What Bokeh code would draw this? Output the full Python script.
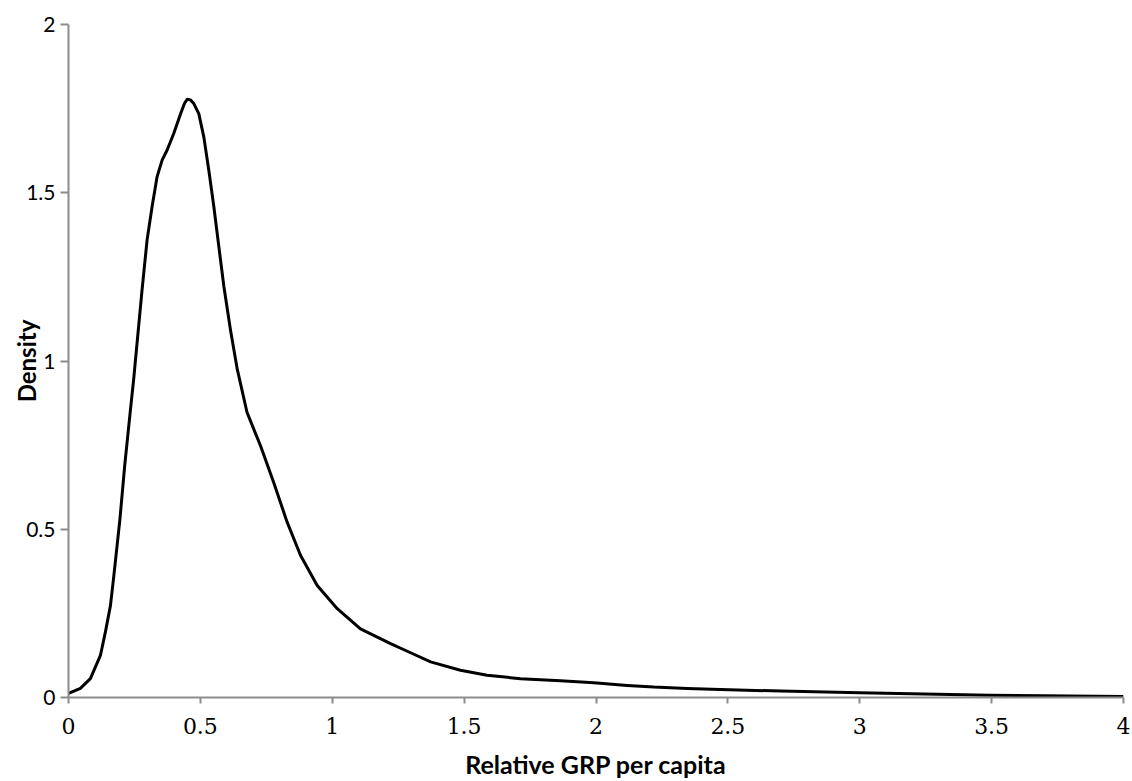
from bokeh.plotting import figure
from bokeh.models import Range1d, FixedTicker
from bokeh.embed import file_html
from bokeh.resources import INLINE

# Kernel density curve
x_vals = [0.0, 0.045, 0.083, 0.121, 0.140, 0.159, 0.172, 0.195, 0.213, 0.235,
          0.247, 0.279, 0.298, 0.317, 0.336, 0.355, 0.374, 0.399, 0.425, 0.440,
          0.450, 0.462, 0.475, 0.494, 0.513, 0.532, 0.551, 0.570, 0.589, 0.614,
          0.640, 0.677, 0.728, 0.778, 0.829, 0.880, 0.943, 1.019, 1.107, 1.221,
          1.297, 1.373, 1.486, 1.587, 1.714, 1.865, 1.992, 2.118, 2.219, 2.346,
          2.472, 2.7, 3.0, 3.49, 4.0]
density = [0.012, 0.027, 0.056, 0.125, 0.195, 0.273, 0.362, 0.530, 0.688, 0.856,
           0.945, 1.212, 1.360, 1.459, 1.548, 1.597, 1.627, 1.676, 1.735, 1.766,
           1.778, 1.776, 1.765, 1.735, 1.666, 1.567, 1.459, 1.340, 1.222, 1.093,
           0.975, 0.847, 0.748, 0.639, 0.521, 0.422, 0.333, 0.264, 0.204, 0.160,
           0.133, 0.106, 0.081, 0.066, 0.056, 0.050, 0.044, 0.036, 0.031, 0.027,
           0.024, 0.019, 0.014, 0.007, 0.003]

x_ticks = [0, 0.5, 1, 1.5, 2, 2.5, 3, 3.5, 4]
x_tick_labels = ["0", "0.5", "1", "1.5", "2", "2.5", "3", "3.5", "4"]
y_ticks = [0, 0.5, 1, 1.5, 2]
y_tick_labels = ["0", "0.5", "1", "1.5", "2"]

p = figure(width=1132, height=781, output_backend="svg", toolbar_location=None,
           x_range=Range1d(0, 4), y_range=Range1d(0, 2),
           min_border_left=68, min_border_right=9, min_border_top=24,
           min_border_bottom=82)
p.outline_line_color = None
p.xgrid.grid_line_color = None
p.ygrid.grid_line_color = None

p.line(x_vals, density, line_color="black", line_width=3, line_join="round")

axis_color = "#8c8c8c"
xa = p.xaxis[0]
xa.ticker = FixedTicker(ticks=x_ticks)
xa.major_label_overrides = {t: l for t, l in zip(x_ticks, x_tick_labels)}
xa.minor_tick_line_color = None
xa.major_tick_in = 0
xa.major_tick_out = 6
xa.axis_line_color = axis_color
xa.axis_line_width = 2
xa.major_tick_line_color = axis_color
xa.major_tick_line_width = 2
xa.major_label_text_font = "DejaVu Serif"
xa.major_label_text_font_size = "22px"
xa.major_label_text_color = "black"
xa.major_label_standoff = 14
xa.axis_label = "Relative GRP per capita"
xa.axis_label_text_font = "Lato"
xa.axis_label_text_font_style = "bold"
xa.axis_label_text_font_size = "25px"
xa.axis_label_text_color = "black"
xa.axis_label_standoff = 12

ya = p.yaxis[0]
ya.ticker = FixedTicker(ticks=y_ticks)
ya.major_label_overrides = {t: l for t, l in zip(y_ticks, y_tick_labels)}
ya.minor_tick_line_color = None
ya.major_tick_in = 0
ya.major_tick_out = 8
ya.axis_line_color = axis_color
ya.axis_line_width = 2
ya.major_tick_line_color = axis_color
ya.major_tick_line_width = 2
ya.major_label_text_font = "Lato"
ya.major_label_text_font_size = "21px"
ya.major_label_text_color = "black"
ya.major_label_standoff = 5
ya.axis_label = "Density"
ya.axis_label_text_font = "Lato"
ya.axis_label_text_font_style = "bold"
ya.axis_label_text_font_size = "24px"
ya.axis_label_text_color = "black"
ya.axis_label_standoff = -18

open("out.html", "w").write(file_html(p, INLINE))
